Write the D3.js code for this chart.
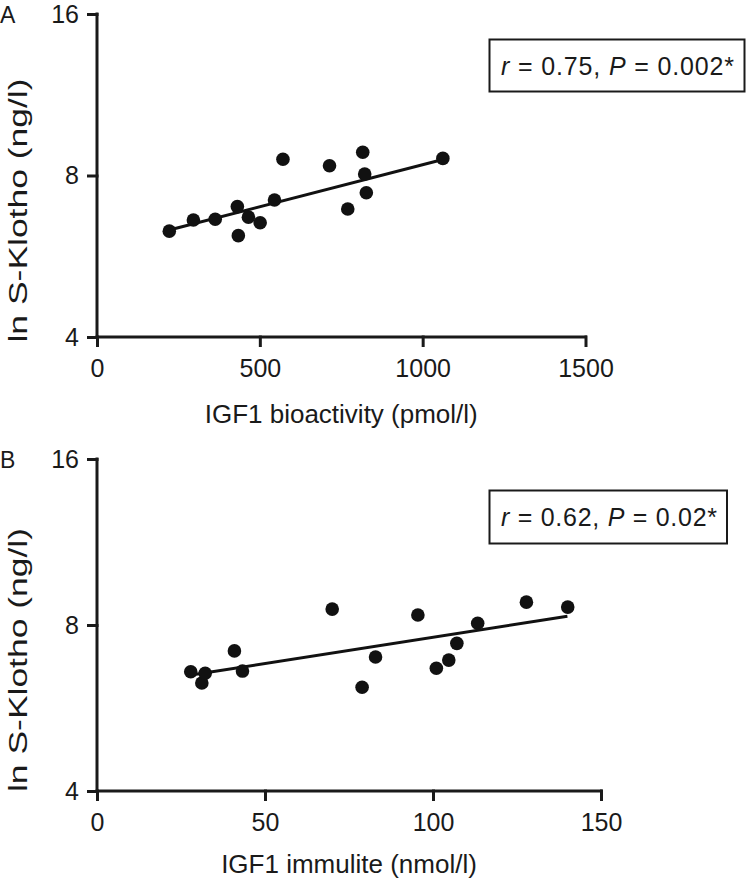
<!DOCTYPE html>
<html>
<head>
<meta charset="utf-8">
<script src="https://cdn.jsdelivr.net/npm/d3@7"></script>
<style>
  html, body { margin: 0; padding: 0; background: #fff; }
  svg { display: block; }
  text { font-family: "Liberation Sans", Arial, Helvetica, sans-serif; fill: #1a1a1a; }
</style>
</head>
<body>
<svg id="chart" width="746" height="882"></svg>
<script>
// ---------------- data ----------------
const yTicks = [4, 8, 16];

// Panel A: IGF1 bioactivity (pmol/l) vs S-Klotho (ng/l)
const bioactivityX = [222, 296, 363, 431, 434, 465, 501, 545, 571, 714, 770, 816, 822, 827, 1062];
const klothoA      = [6.30, 6.61, 6.63, 7.00, 6.18, 6.69, 6.53, 7.20, 8.58, 8.34, 6.93, 8.84, 8.05, 7.43, 8.61];
const fitAX = [222, 1062];
const fitAY = [6.33, 8.57];
const xTicksA = [0, 500, 1000, 1500];

// Panel B: IGF1 immulite (nmol/l) vs S-Klotho (ng/l)
const immuliteX = [27.9, 31.2, 32.2, 40.9, 43.3, 70.0, 78.9, 82.9, 95.5, 101.0, 104.7, 107.1, 113.3, 127.8, 140.1];
const klothoB   = [6.58, 6.28, 6.54, 7.18, 6.60, 8.55, 6.17, 7.00, 8.34, 6.68, 6.91, 7.41, 8.06, 8.80, 8.62];
const fitBX = [28, 140];
const fitBY = [6.49, 8.30];
const xTicksB = [0, 50, 100, 150];

const panelLabels = ["A", "B"];
const xTitles = ["IGF1 bioactivity (pmol/l)", "IGF1 immulite (nmol/l)"];
const yTitle = "ln S-Klotho (ng/l)";
const statR = ["0.75", "0.62"];
const statP = ["0.002*", "0.02*"];

// ---------------- layout ----------------
const panels = [
  { xs: bioactivityX, ys: klothoA, fx: fitAX, fy: fitAY, xTicks: xTicksA, xMax: 1500,
    left: 97, right: 585.5, top: 14, bottom: 337, titleOff: 86,
    box: [489.5, 39.5, 255, 52], statLen: 233 },
  { xs: immuliteX, ys: klothoB, fx: fitBX, fy: fitBY, xTicks: xTicksB, xMax: 150,
    left: 97, right: 601, top: 459, bottom: 791, titleOff: 82,
    box: [489.5, 490.5, 237.5, 53], statLen: 216 }
];

const svg = d3.select("#chart");

panels.forEach((p, i) => {
  const g = svg.append("g");
  const x = d3.scaleLinear().domain([0, p.xMax]).range([p.left, p.right]);
  const y = d3.scaleLog().base(2).domain([4, 16]).range([p.bottom, p.top]);

  // x axis
  const xAxis = d3.axisBottom(x).tickValues(p.xTicks).tickFormat(d3.format("d"))
    .tickSize(10).tickSizeOuter(0).tickPadding(12);
  const gx = g.append("g").attr("transform", `translate(0,${p.bottom})`).call(xAxis);
  // y axis
  const yAxis = d3.axisLeft(y).tickValues(yTicks).tickFormat(d3.format("d"))
    .tickSize(10).tickSizeOuter(0).tickPadding(8);
  const gy = g.append("g").attr("transform", `translate(${p.left},0)`).call(yAxis);

  [gx, gy].forEach(ax => {
    ax.attr("font-size", 25).attr("font-family", "\"Liberation Sans\", Arial, sans-serif");
    ax.select(".domain").attr("stroke", "#1a1a1a").attr("stroke-width", 3);
    ax.selectAll(".tick line").attr("stroke", "#1a1a1a").attr("stroke-width", 3);
    ax.selectAll(".tick text").attr("font-size", 25).attr("fill", "#1a1a1a");
  });
  gx.select(".domain").attr("d", `M${p.left - 1.5},0H${p.right + 1.5}`);
  gy.select(".domain").attr("d", `M0,${p.top - 1.5}V${p.bottom}`);
  gx.selectAll(".tick line").attr("y1", -1.5);
  gy.selectAll(".tick line").attr("x1", 1.5);

  // regression line
  g.append("line")
    .attr("x1", x(p.fx[0])).attr("y1", y(p.fy[0]))
    .attr("x2", x(p.fx[1])).attr("y2", y(p.fy[1]))
    .attr("stroke", "#111").attr("stroke-width", 3);

  // points
  g.selectAll("circle.pt").data(p.xs.map((v, k) => [v, p.ys[k]])).join("circle")
    .attr("class", "pt")
    .attr("cx", d => x(d[0])).attr("cy", d => y(d[1]))
    .attr("r", 6.8).attr("fill", "#111");

  // panel label
  g.append("text").attr("x", 0).attr("y", p.top + 9).attr("font-size", 23).text(panelLabels[i]);

  // x title
  g.append("text").attr("x", (p.left + p.right) / 2).attr("y", p.bottom + p.titleOff)
    .attr("text-anchor", "middle").attr("font-size", 26).text(xTitles[i]);

  // y title (rotated, elongated like the reference)
  const cy = (p.top + p.bottom) / 2 + 35;
  g.append("text")
    .attr("transform", `translate(27,${cy}) rotate(-90)`)
    .attr("text-anchor", "middle").attr("font-size", 25)
    .attr("textLength", 264).attr("lengthAdjust", "spacingAndGlyphs")
    .text(yTitle);

  // stats box
  const [bx, by, bw, bh] = p.box;
  g.append("rect").attr("x", bx).attr("y", by).attr("width", bw).attr("height", bh)
    .attr("fill", "none").attr("stroke", "#1a1a1a").attr("stroke-width", 2);
  const t = g.append("text").attr("x", bx + 11.5).attr("y", by + 35).attr("font-size", 25)
    .attr("textLength", p.statLen).attr("lengthAdjust", "spacing");
  t.append("tspan").attr("font-style", "italic").text("r");
  t.append("tspan").text(" = " + statR[i] + ",  ");
  t.append("tspan").attr("font-style", "italic").text("P");
  t.append("tspan").text(" = " + statP[i]);
});
</script>
</body>
</html>
